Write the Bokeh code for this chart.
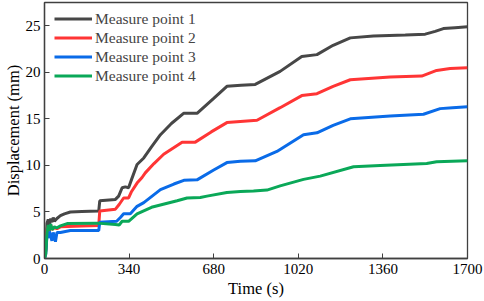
from bokeh.plotting import figure
from bokeh.models import Range1d, FixedTicker, Legend, LegendItem
from bokeh.embed import file_html
from bokeh.resources import INLINE

# ---- data ----
t1 = [0, 5, 10, 15, 20, 25, 30, 35, 40, 50, 64, 80, 104, 150, 218, 222, 285, 298, 312, 325, 338, 350, 372, 399, 430, 466, 510, 559, 613, 680, 733, 790, 847, 947, 1034, 1095, 1160, 1229, 1322, 1450, 1530, 1570, 1603, 1650, 1700]
v1 = [0, 1.0, 3.8, 4.2, 3.6, 4.3, 3.9, 4.4, 4.0, 4.3, 4.6, 4.8, 5.0, 5.05, 5.1, 6.2, 6.35, 6.7, 7.6, 7.7, 7.6, 8.5, 10.1, 10.8, 12.0, 13.3, 14.5, 15.6, 15.6, 17.2, 18.5, 18.6, 18.7, 20.1, 21.7, 21.9, 22.9, 23.7, 23.9, 24.0, 24.1, 24.4, 24.7, 24.8, 24.9]

t2 = [0, 5, 10, 15, 20, 25, 30, 40, 50, 64, 91, 150, 218, 222, 285, 300, 318, 338, 350, 372, 392, 405, 440, 479, 553, 606, 670, 733, 854, 947, 1034, 1095, 1160, 1229, 1389, 1516, 1576, 1630, 1700]
v2 = [0, 0.8, 3.0, 3.5, 2.9, 3.6, 3.1, 3.3, 3.2, 3.4, 3.45, 3.5, 3.55, 5.1, 5.3, 5.8, 6.5, 6.5, 7.2, 8.1, 8.7, 9.2, 10.2, 11.2, 12.5, 12.5, 13.6, 14.6, 14.85, 16.2, 17.5, 17.7, 18.5, 19.2, 19.5, 19.6, 20.2, 20.4, 20.5]

t3 = [0, 5, 10, 15, 20, 25, 30, 35, 44, 50, 64, 104, 218, 222, 290, 305, 318, 345, 372, 399, 466, 520, 560, 613, 680, 733, 787, 847, 934, 1041, 1095, 1160, 1229, 1389, 1523, 1590, 1640, 1700]
v3 = [0, 0.5, 2.5, 2.2, 2.9, 2.4, 1.9, 2.8, 1.8, 2.8, 2.8, 3.0, 3.0, 3.9, 4.0, 4.4, 4.8, 4.8, 5.6, 6.0, 7.4, 8.0, 8.4, 8.45, 9.5, 10.3, 10.45, 10.5, 11.5, 13.3, 13.5, 14.3, 15.0, 15.3, 15.5, 16.1, 16.2, 16.3]

t4 = [0, 5, 10, 15, 20, 25, 30, 40, 50, 64, 91, 211, 285, 300, 312, 338, 372, 430, 533, 573, 626, 653, 733, 787, 840, 894, 947, 1041, 1108, 1242, 1349, 1536, 1576, 1700]
v4 = [0, 0.5, 2.8, 3.6, 3.0, 3.7, 3.1, 3.4, 3.3, 3.5, 3.75, 3.8, 3.65, 3.6, 4.0, 4.0, 4.8, 5.5, 6.2, 6.5, 6.55, 6.7, 7.1, 7.2, 7.25, 7.35, 7.8, 8.5, 8.85, 9.85, 10.0, 10.2, 10.4, 10.5]

names = ["Measure point 1", "Measure point 2", "Measure point 3", "Measure point 4"]
colors = ["#474747", "#ff3535", "#0a6be8", "#0aa858"]
x_ticks = [0, 340, 680, 1020, 1360, 1700]
y_ticks = [0, 5, 10, 15, 20, 25]

FONT = "Liberation Serif"
AX = "#404040"

p = figure(width=484, height=301, output_backend="svg", toolbar_location=None,
           x_range=Range1d(0, 1700), y_range=Range1d(0, 27.5),
           min_border_left=44, min_border_right=17, min_border_top=2, min_border_bottom=43)
p.grid.visible = False
p.background_fill_color = "white"
p.border_fill_color = "white"
p.outline_line_color = AX
p.outline_line_width = 1.3

renderers = []
for t, v, c in zip([t1, t2, t3, t4], [v1, v2, v3, v4], colors):
    r = p.line(t, v, line_color=c, line_width=3)
    renderers.append(r)

for ax in (p.xaxis[0], p.yaxis[0]):
    ax.axis_line_color = AX
    ax.axis_line_width = 1.3
    ax.major_tick_line_color = AX
    ax.major_tick_in = 5
    ax.major_tick_out = 0
    ax.minor_tick_line_color = None
    ax.major_label_text_font = FONT
    ax.major_label_text_font_size = "15px"
    ax.major_label_text_color = "black"
    ax.axis_label_text_font = FONT
    ax.axis_label_text_font_size = "16.5px"
    ax.axis_label_text_font_style = "normal"
    ax.axis_label_text_color = "black"

p.xaxis[0].ticker = FixedTicker(ticks=x_ticks)
p.yaxis[0].ticker = FixedTicker(ticks=y_ticks)
p.xaxis[0].axis_label = "Time (s)"
p.yaxis[0].axis_label = "Displacement (mm)"
p.xaxis[0].major_label_standoff = 5
p.yaxis[0].major_label_standoff = 4
p.xaxis[0].axis_label_standoff = 2
p.yaxis[0].axis_label_standoff = 0

legend = Legend(items=[LegendItem(label=n, renderers=[r]) for n, r in zip(names, renderers)],
                location=(10, 173), margin=0, padding=0, spacing=0,
                glyph_width=38, glyph_height=19, label_height=19, label_standoff=3,
                label_text_font=FONT, label_text_font_size="15.5px",
                border_line_color=None, background_fill_alpha=0)
p.add_layout(legend, "center")

open("out.html", "w").write(file_html(p, INLINE))
